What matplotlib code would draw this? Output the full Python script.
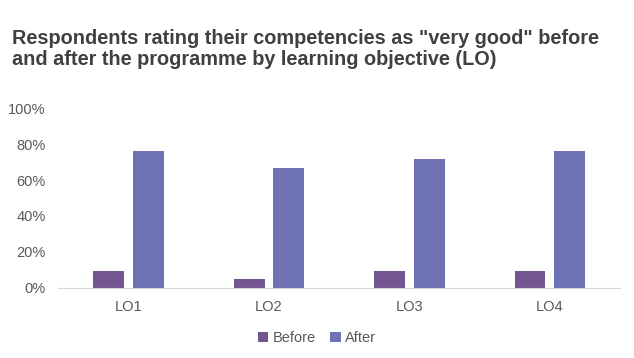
import numpy as np
import matplotlib.pyplot as plt
from matplotlib.ticker import PercentFormatter

plt.rcParams['font.family'] = ['Liberation Sans', 'DejaVu Sans']

# Dados
categories = ['LO1', 'LO2', 'LO3', 'LO4']
before = [9.5, 4.8, 9.5, 9.5]
after = [76, 66.5, 71.5, 76]

fig = plt.figure(figsize=(6.34, 3.58), dpi=100)
ax = fig.add_axes([0.092, 0.196, 0.886, 0.502])

x = np.arange(len(categories))
w = 0.22
ax.bar(x - 0.141, before, w, color='#735590', label='Before')
ax.bar(x + 0.141, after, w, color='#6E71B2', label='After')

ax.set_xlim(-0.5, len(categories) - 0.5)
ax.set_ylim(0, 100)
ax.set_yticks(np.arange(0, 101, 20))
ax.yaxis.set_major_formatter(PercentFormatter(decimals=0))
ax.set_xticks(x)
ax.set_xticklabels(categories)

for s in ['top', 'right', 'left']:
    ax.spines[s].set_visible(False)
ax.spines['bottom'].set_color('#d9d9d9')
ax.tick_params(axis='both', length=0, labelsize=10.5, colors='#595959')
ax.tick_params(axis='x', pad=9)
ax.tick_params(axis='y', pad=9)

fig.text(0.019, 0.918, 'Respondents rating their competencies as "very good" before\n'
         'and after the programme by learning objective (LO)',
         fontsize=14.3, fontweight='bold', color='#404040', va='top', linespacing=1.12)

fig.legend(loc='center', bbox_to_anchor=(0.5, 0.055), ncol=2, frameon=False,
           fontsize=10.5, handlelength=0.7, handleheight=0.7, handletextpad=0.3,
           columnspacing=1.0, labelcolor='#595959')

fig.savefig('out.png', dpi=100)
